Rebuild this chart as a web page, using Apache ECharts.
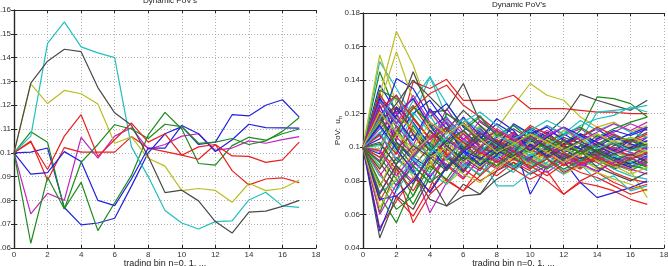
<!DOCTYPE html>
<html>
<head>
<meta charset="utf-8">
<script src="https://cdn.jsdelivr.net/npm/echarts@6/dist/echarts.min.js"></script>
<style>
  html, body { margin: 0; padding: 0; background: #fff; }
  #chart { width: 668px; height: 266px; }
</style>
</head>
<body>
<div id="chart"></div>
<script>
// trading bins n = 0..17
var bins = [0, 1, 2, 3, 4, 5, 6, 7, 8, 9, 10, 11, 12, 13, 14, 15, 16, 17];
var xTicks = [0, 2, 4, 6, 8, 10, 12, 14, 16, 18];

// matlab default line colour order
var lineColors = ['#2222dd', '#1c8c1c', '#e82020', '#22bfbf', '#c022c0', '#bcbc22', '#4a4a4a'];

// left panel: 10 sample paths
var leftPaths = [
  [.1, .1003, .102, .077, .0697, .0705, .0725, .086, .1, .108, .111, .1035, .1045, .116, .1155, .120, .1223, .115],
  [.1, .1088, .1044, .0765, .0876, .0673, .079, .0905, .1075, .117, .110, .0955, .0948, .103, .1065, .1053, .108, .110],
  [.1, .105, .0885, .1022, .1003, .1003, .1003, .1068, .102, .1005, .099, .0973, .1035, .0925, .0865, .089, .0895, .0875],
  [.1, .107, .146, .155, .1445, .142, .140, .1025, .090, .0758, .0705, .068, .0711, .0714, .0802, .0834, .0777, .0771],
  [.1, .0743, .083, .080, .1065, .0978, .107, .1105, .1015, .1035, .107, .108, .101, .102, .105, .104, .1055, .1068],
  [.1, .129, .1207, .1262, .1248, .1205, .104, .1067, .0977, .0944, .0841, .085, .0842, .0792, .0872, .0841, .085, .0886],
  [.1, .1293, .1385, .1435, .1425, .1274, .1168, .1116, .0984, .0833, .0843, .0798, .0711, .0663, .0751, .0755, .0775, .080],
  [.1, .091, .0917, .1005, .0963, .080, .0778, .089, .102, .102, .1115, .108, .1005, .1055, .112, .1106, .1105, .1104],
  [.1, .062, .0897, .0764, .096, .1035, .1118, .110, .106, .112, .111, .104, .1045, .106, .1035, .105, .109, .1148],
  [.1, .1045, .093, .107, .116, .0985, .1055, .1125, .1045, .108, .099, .1025, .1035, .0987, .0985, .096, .097, .1045]
];
var leftTicks = [0.06, 0.07, 0.08, 0.09, 0.1, 0.11, 0.12, 0.13, 0.14, 0.15, 0.16];

// right panel: many sample paths
var rightPaths = [
  [.1,.137,.121,.129,.112,.118,.104,.098,.101,.095,.099,.104,.097,.101,.094,.098,.093,.096],
  [.1,.145,.120,.098,.107,.092,.110,.101,.096,.104,.099,.093,.101,.107,.103,.099,.105,.101],
  [.1,.052,.068,.082,.074,.089,.081,.094,.088,.097,.090,.098,.092,.087,.095,.091,.088,.093],
  [.1,.151,.135,.118,.142,.126,.112,.119,.106,.113,.108,.102,.110,.104,.108,.101,.106,.103],
  [.1,.083,.097,.088,.061,.079,.092,.086,.099,.093,.087,.095,.090,.098,.093,.089,.096,.092],
  [.1,.131,.169,.149,.121,.108,.117,.103,.111,.125,.138,.131,.128,.118,.112,.115,.109,.113],
  [.1,.046,.071,.063,.082,.065,.078,.072,.086,.091,.084,.089,.095,.088,.093,.087,.091,.089],
  [.1,.050,.075,.094,.087,.101,.093,.109,.098,.104,.072,.089,.096,.091,.085,.092,.088,.094],
  [.1,.071,.055,.078,.096,.087,.104,.099,.093,.106,.101,.096,.103,.099,.107,.102,.098,.104],
  [.1,.118,.104,.139,.135,.1405,.128,.128,.128,.131,.123,.123,.123,.122,.121,.121,.120,.120],
  [.1,.124,.109,.128,.142,.118,.105,.112,.099,.107,.097,.104,.100,.095,.102,.098,.094,.099],
  [.1,.108,.092,.114,.102,.123,.109,.097,.105,.092,.101,.096,.105,.099,.093,.098,.102,.096],
  [.1,.155,.126,.113,.101,.115,.098,.106,.094,.101,.097,.088,.094,.089,.096,.091,.087,.092],
  [.1,.131,.118,.145,.121,.122,.138,.115,.108,.102,.112,.106,.101,.108,.103,.097,.101,.099],
  [.1,.113,.141,.135,.118,.126,.112,.105,.114,.108,.103,.109,.101,.106,.111,.104,.108,.112],
  [.1,.094,.081,.066,.085,.099,.091,.083,.097,.089,.095,.101,.093,.088,.094,.090,.086,.091],
  [.1,.068,.086,.055,.072,.081,.074,.088,.083,.091,.086,.080,.072,.079,.077,.074,.069,.066],
  [.1,.089,.102,.093,.107,.097,.088,.095,.077,.077,.085,.091,.096,.089,.094,.087,.083,.081],
  [.1,.119,.131,.107,.098,.112,.103,.116,.109,.099,.106,.113,.107,.111,.105,.109,.114,.110],
  [.1,.126,.157,.128,.112,.101,.109,.095,.103,.097,.092,.098,.090,.095,.087,.091,.086,.070],
  [.1,.077,.094,.085,.069,.065,.071,.072,.081,.087,.093,.088,.097,.092,.098,.094,.090,.095],
  [.1,.130,.106,.120,.128,.114,.100,.110,.103,.097,.104,.099,.108,.102,.097,.103,.099,.106],
  [.1,.128,.112,.095,.103,.089,.098,.106,.101,.093,.099,.107,.102,.110,.130,.129,.126,.118],
  [.1,.116,.124,.108,.093,.104,.115,.101,.096,.108,.102,.097,.089,.094,.091,.085,.081,.079],
  [.1,.083,.074,.089,.079,.094,.086,.099,.091,.085,.096,.089,.093,.101,.096,.092,.097,.094],
  [.1,.092,.113,.101,.122,.108,.118,.104,.097,.103,.094,.100,.095,.090,.097,.093,.089,.091],
  [.1,.097,.085,.101,.092,.078,.087,.096,.089,.101,.094,.089,.097,.093,.087,.092,.096,.093],
  [.1,.108,.123,.110,.098,.089,.094,.087,.099,.105,.100,.108,.117,.1315,.128,.125,.122,.128],
  [.1,.125,.103,.092,.082,.095,.086,.100,.095,.088,.094,.099,.092,.079,.070,.073,.076,.080],
  [.1,.061,.088,.071,.093,.106,.098,.111,.102,.096,.105,.099,.094,.101,.097,.103,.099,.096],
  [.1,.098,.087,.074,.091,.080,.074,.083,.092,.087,.081,.086,.072,.080,.085,.079,.075,.078],
  [.1,.112,.097,.121,.109,.116,.101,.092,.104,.098,.110,.103,.097,.104,.121,.122,.123,.125],
  [.1,.073,.089,.080,.095,.090,.082,.093,.087,.096,.091,.085,.092,.088,.095,.090,.087,.084],
  [.1,.115,.101,.097,.108,.096,.104,.113,.106,.100,.108,.102,.110,.105,.099,.104,.100,.107],
  [.1,.091,.077,.089,.100,.094,.085,.097,.104,.099,.093,.100,.096,.091,.099,.095,.100,.097],
  [.1,.105,.119,.129,.113,.099,.118,.107,.096,.102,.111,.104,.098,.103,.100,.106,.102,.099],
  [.1,.134,.129,.118,.105,.112,.099,.108,.104,.098,.109,.104,.100,.098,.093,.096,.092,.088],
  [.1,.085,.070,.059,.076,.098,.108,.096,.103,.109,.098,.104,.097,.091,.096,.103,.099,.102],
  [.1,.101,.118,.104,.119,.103,.095,.101,.094,.099,.089,.094,.086,.090,.080,.083,.074,.077],
  [.1,.122,.106,.096,.110,.100,.089,.098,.091,.095,.102,.097,.091,.096,.102,.098,.095,.100],
  [.1,.076,.099,.082,.090,.103,.095,.088,.097,.092,.098,.090,.084,.089,.085,.081,.078,.074],
  [.1,.114,.126,.140,.130,.120,.113,.106,.100,.094,.101,.097,.104,.099,.095,.101,.104,.109],
  [.1,.096,.124,.115,.101,.087,.097,.089,.098,.093,.102,.095,.099,.093,.098,.094,.090,.095],
  [.1,.102,.090,.113,.098,.120,.114,.103,.110,.101,.097,.103,.108,.112,.106,.111,.115,.118],
  [.1,.132,.114,.125,.110,.095,.103,.093,.101,.106,.099,.094,.101,.097,.103,.099,.095,.101],
  [.1,.073,.080,.093,.085,.078,.090,.084,.093,.088,.096,.090,.084,.092,.089,.095,.091,.086],
  [.1,.111,.121,.098,.106,.115,.105,.111,.102,.108,.104,.110,.105,.099,.104,.108,.103,.106],
  [.1,.088,.108,.097,.087,.110,.102,.091,.099,.095,.090,.096,.103,.097,.102,.096,.101,.097],
  [.1,.120,.099,.108,.095,.104,.110,.100,.096,.103,.098,.106,.101,.097,.102,.107,.103,.112],
  [.1,.069,.071,.080,.094,.104,.098,.090,.095,.107,.101,.095,.102,.108,.103,.098,.104,.100],
  [.1,.117,.101,.089,.079,.087,.100,.094,.089,.097,.092,.087,.093,.098,.092,.088,.093,.090],
  [.1,.107,.096,.117,.105,.096,.087,.080,.086,.093,.089,.083,.090,.085,.082,.077,.072,.075],
  [.1,.128,.115,.102,.096,.109,.117,.110,.101,.096,.104,.113,.108,.116,.110,.114,.109,.106],
  [.1,.060,.078,.091,.083,.094,.105,.099,.092,.100,.106,.101,.095,.089,.094,.100,.097,.093],
  [.1,.099,.118,.111,.094,.100,.091,.101,.108,.103,.097,.105,.099,.095,.101,.097,.094,.098],
  [.1,.087,.103,.094,.110,.101,.092,.100,.106,.111,.105,.100,.106,.102,.098,.103,.099,.102],
  [.1,.129,.117,.104,.123,.111,.098,.093,.100,.114,.108,.112,.104,.099,.105,.110,.107,.111],
  [.1,.079,.063,.071,.089,.081,.095,.090,.099,.094,.088,.093,.087,.092,.098,.093,.089,.087],
  [.1,.094,.110,.123,.132,.137,.125,.118,.110,.104,.113,.108,.101,.106,.112,.107,.103,.108],
  [.1,.117,.131,.114,.100,.093,.104,.097,.107,.102,.095,.101,.107,.113,.117,.119,.124,.121],
  [.1,.127,.114,.131,.115,.105,.097,.109,.103,.098,.093,.088,.095,.090,.086,.091,.094,.089],
  [.1,.064,.082,.097,.106,.092,.084,.079,.088,.094,.103,.097,.091,.097,.092,.089,.084,.088],
  [.1,.103,.089,.078,.097,.110,.122,.113,.103,.097,.107,.100,.093,.098,.088,.084,.080,.085],
  [.1,.113,.099,.086,.073,.088,.097,.105,.117,.110,.098,.106,.112,.107,.101,.096,.100,.104],
  [.1,.091,.109,.124,.114,.102,.110,.118,.107,.113,.105,.099,.104,.096,.101,.107,.104,.100],
  [.1,.123,.131,.117,.105,.111,.103,.097,.091,.098,.087,.093,.085,.090,.094,.089,.093,.097],
  [.1,.109,.093,.084,.097,.106,.115,.121,.113,.105,.110,.116,.111,.106,.099,.103,.098,.101],
  [.1,.098,.083,.095,.105,.117,.108,.100,.111,.105,.099,.107,.112,.104,.109,.114,.110,.115],
  [.1,.121,.109,.099,.115,.108,.114,.105,.097,.102,.108,.103,.098,.103,.108,.103,.106,.102],
  [.1,.072,.090,.101,.094,.086,.099,.108,.102,.095,.101,.094,.099,.104,.097,.092,.096,.091]
];
var rightTicks = [0.04, 0.06, 0.08, 0.1, 0.12, 0.14, 0.16, 0.18];

var titleText = "Dynamic PoV's";
var xName = 'trading bin n=0, 1, ...';

var font = 'Liberation Sans, Arial, sans-serif';
var boxColor = '#262626';

function tickFmt(v) {
	return String(parseFloat(v.toFixed(3)));
}

function bottomX(grid) {
	return {
		type: 'value', gridIndex: grid, min: xTicks[0], max: xTicks[xTicks.length - 1],
		interval: xTicks[1] - xTicks[0],
		name: xName, nameLocation: 'middle', nameGap: 11, nameMoveOverlap: false,
		nameTextStyle: { fontFamily: font, fontSize: 9, color: '#222' },
		axisLine: { lineStyle: { color: boxColor, width: 1.2 } },
		axisTick: { inside: true, length: 3, lineStyle: { color: boxColor } },
		axisLabel: { fontFamily: font, fontSize: 8, color: '#333', margin: 3 },
		splitLine: { show: true, lineStyle: { color: '#b4b4b4', type: [1, 2] } }
	};
}
function topX(grid) {
	return {
		type: 'value', gridIndex: grid, position: 'top', min: xTicks[0], max: xTicks[xTicks.length - 1],
		interval: xTicks[1] - xTicks[0],
		axisLine: { lineStyle: { color: boxColor, width: 1.2 } },
		axisTick: { inside: true, length: 3, lineStyle: { color: boxColor } },
		axisLabel: { show: false }, splitLine: { show: false }
	};
}
function leftY(grid, ticks, extra) {
	var ax = {
		type: 'value', gridIndex: grid, min: ticks[0], max: ticks[ticks.length - 1],
		interval: +(ticks[1] - ticks[0]).toFixed(3),
		axisLine: { show: true, lineStyle: { color: boxColor, width: 1.2 } },
		axisTick: { show: true, inside: true, length: 3, lineStyle: { color: boxColor } },
		axisLabel: { fontFamily: font, fontSize: 8, color: '#333', margin: 3, formatter: tickFmt },
		splitLine: { show: true, lineStyle: { color: '#b4b4b4', type: [1, 2] } }
	};
	for (var k in extra) ax[k] = extra[k];
	return ax;
}
function rightY(grid, ticks) {
	return {
		type: 'value', gridIndex: grid, position: 'right', min: ticks[0], max: ticks[ticks.length - 1],
		interval: +(ticks[1] - ticks[0]).toFixed(3),
		axisLine: { show: true, lineStyle: { color: boxColor, width: 1.2 } },
		axisTick: { show: true, inside: true, length: 3, lineStyle: { color: boxColor } },
		axisLabel: { show: false }, splitLine: { show: false }
	};
}

function makeSeries(paths, xi, yi) {
	return paths.map(function(p, j) {
		return {
			type: 'line', xAxisIndex: xi, yAxisIndex: yi,
			data: p.map(function(v, i) { return [bins[i], v]; }),
			showSymbol: false, symbol: 'none', silent: true,
			lineStyle: { width: 1.2, color: lineColors[j % lineColors.length] },
			z: 2 + j * 0.001
		};
	});
}

var chart = echarts.init(document.getElementById('chart'), null, { renderer: 'canvas' });

var option = {
	animation: false,
	backgroundColor: '#fff',
	title: [
		{ text: titleText, left: 165, top: -8, textAlign: 'center',
		  textStyle: { fontFamily: font, fontSize: 8, fontWeight: 'normal', color: '#222' } },
		{ text: titleText, left: 514, top: -4, textAlign: 'center',
		  textStyle: { fontFamily: font, fontSize: 8, fontWeight: 'normal', color: '#222' } }
	],
	grid: [
		{ left: 14, top: 10, width: 302, height: 238, outerBoundsMode: 'none' },
		{ left: 363, top: 13, width: 301, height: 235, outerBoundsMode: 'none' }
	],
	xAxis: [bottomX(0), topX(0), bottomX(1), topX(1)],
	yAxis: [
		leftY(0, leftTicks, {}),
		rightY(0, leftTicks),
		leftY(1, rightTicks, {
			name: '{a|PoV:  u}{s|n}', nameLocation: 'middle', nameGap: 20, nameMoveOverlap: false,
			nameTextStyle: { rich: {
				a: { fontFamily: font, fontSize: 8, color: '#222' },
				s: { fontFamily: font, fontSize: 6, color: '#222', verticalAlign: 'bottom', padding: [4, 0, 0, 0] }
			} }
		}),
		rightY(1, rightTicks)
	],
	series: makeSeries(leftPaths, 0, 0).concat(makeSeries(rightPaths, 2, 2))
};

chart.setOption(option);
</script>
</body>
</html>
